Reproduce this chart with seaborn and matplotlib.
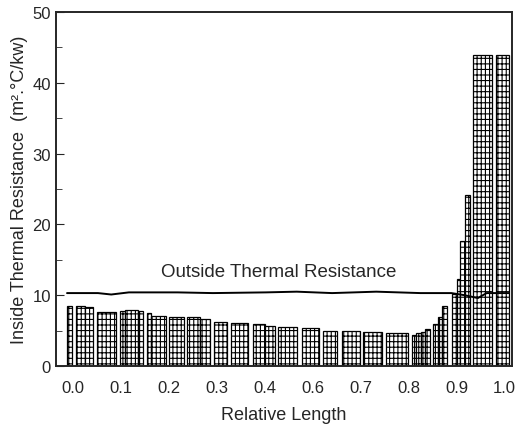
import numpy as np
import pandas as pd
import matplotlib
matplotlib.use("Agg")
import matplotlib.pyplot as plt
import seaborn as sns

# inside thermal resistance, bar segments along the relative length
seg_left = [0.000, 0.020, 0.041, 0.068, 0.120, 0.131, 0.161, 0.181, 0.190, 0.231,
            0.271, 0.301, 0.333, 0.371, 0.421, 0.448, 0.477, 0.532, 0.579, 0.622,
            0.670, 0.722, 0.781, 0.790, 0.801, 0.810, 0.828, 0.839, 0.848, 0.871,
            0.882, 0.889, 0.900, 0.919, 0.971]
seg_right = [0.011, 0.041, 0.059, 0.111, 0.131, 0.161, 0.172, 0.190, 0.224, 0.265,
             0.301, 0.324, 0.362, 0.410, 0.448, 0.471, 0.520, 0.570, 0.611, 0.663,
             0.713, 0.771, 0.790, 0.801, 0.810, 0.821, 0.839, 0.848, 0.860, 0.882,
             0.889, 0.900, 0.912, 0.962, 1.000]
seg_height = [8.5, 8.5, 8.3, 7.6, 7.7, 7.9, 7.8, 7.5, 7.1, 6.9,
              6.9, 6.7, 6.2, 6.1, 5.9, 5.7, 5.5, 5.4, 5.0, 5.0,
              4.8, 4.7, 4.4, 4.6, 4.8, 5.2, 6.0, 6.9, 8.5, 10.2,
              12.3, 17.7, 24.1, 44.0, 44.0]

# outside thermal resistance line
line_x = [0.0, 0.07, 0.10, 0.14, 0.25, 0.33, 0.45, 0.52, 0.60, 0.70, 0.80, 0.87,
          0.90, 0.93, 0.95, 0.97, 1.0]
line_y = [10.3, 10.3, 10.1, 10.4, 10.4, 10.3, 10.4, 10.5, 10.3, 10.5, 10.3, 10.3,
          10.0, 9.6, 10.3, 10.3, 10.3]

xtick_labels = ["0.0", "0.1", "0.2", "0.3", "0.4", "0.6", "0.7", "0.8", "0.9", "1.0"]

sns.set_style("ticks")
plt.rcParams["font.family"] = ["Liberation Sans", "DejaVu Sans"]
plt.rcParams["hatch.linewidth"] = 0.8

fig = plt.figure(figsize=(5.16, 4.27), dpi=100)
ax = fig.add_axes([0.1085, 0.1405, 0.8835, 0.829])

left = np.array(seg_left)
width = np.array(seg_right) - left
ax.bar(left, seg_height, width=width, align="edge", color="white",
       edgecolor="black", linewidth=0.9, hatch="||||---")

line_df = pd.DataFrame({"x": line_x, "y": line_y})
sns.lineplot(data=line_df, x="x", y="y", color="black", linewidth=1.4, ax=ax)

ax.text(0.48, 13.4, "Outside Thermal Resistance", fontsize=13.5, ha="center", va="center")

ax.set_xlim(-0.025, 1.007)
ax.set_ylim(0, 50)
ax.set_xticks(np.linspace(0.014, 0.99, 10))
ax.set_xticklabels(xtick_labels, fontsize=12)
ax.set_yticks([0, 10, 20, 30, 40, 50])
ax.set_yticks([5, 15, 25, 35, 45], minor=True)
ax.tick_params(axis="y", which="both", direction="in", labelsize=12, length=6)
ax.tick_params(axis="y", which="minor", length=4)
ax.tick_params(axis="x", direction="in", length=0, pad=10)
for s in ax.spines.values():
    s.set_linewidth(1.4)

ax.set_xlabel("Relative Length", fontsize=13, labelpad=8)
ax.set_ylabel("Inside Thermal Resistance  (m².°C/kw)", fontsize=13, labelpad=3)

fig.savefig("out.png", dpi=100)
